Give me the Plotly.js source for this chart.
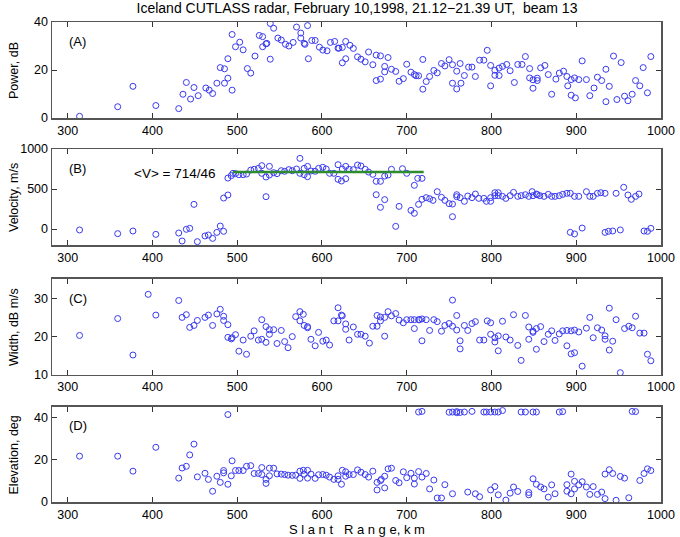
<!DOCTYPE html>
<html>
<head>
<meta charset="utf-8">
<script src="https://cdn.plot.ly/plotly-3.0.1.min.js"></script>
<style>
  html, body { margin: 0; padding: 0; background: #fff; }
  #chart { width: 680px; height: 537px; }
</style>
</head>
<body>
<div id="chart"></div>
<script>
// Beam 13 range-gate parameters, slant range in km

// (A) backscatter power
const powerRange = [314,359,377,404,431,436,440,445,449,454,463,467,471,476,480,485,485,489,489,494,494,498,503,507,512,516,521,526,530,530,534,535,539,539,543,548,552,557,561,566,570,575,575,579,580,584,583,588,592,597,601,606,610,615,619,620,624,624,628,628,633,637,642,646,651,655,660,664,664,669,669,674,674,678,682,687,691,696,700,705,709,711,714,719,719,723,727,732,736,741,745,750,754,754,759,759,763,764,768,773,777,781,786,791,795,799,799,804,804,809,809,813,818,822,827,831,836,840,845,845,849,849,854,854,858,863,867,871,876,880,885,889,890,894,894,898,899,903,907,912,916,921,925,930,935,935,939,944,948,953,957,961,966,970,975,979,984,988];
const powerDb = [0.7,4.7,13.2,5.2,3.9,9.9,14.8,7.9,12.7,9.3,12.5,11.6,10.2,14.5,21,20.5,14.5,16.6,24.7,11.6,34.8,29.7,31.6,28.4,20.6,18.7,25.8,34.4,33.9,29.7,30.9,31.1,24.5,39.4,37.4,33.3,32.5,30.7,30,31.5,37.9,35.4,33.3,31.1,30.7,24.7,38.5,32.3,32.3,29.5,28.3,28,31.5,31.9,29.1,29.1,29.4,23,31.9,24.7,30.3,29,25.5,24.5,23.4,27.5,22.2,26.2,15.6,25.9,16.2,21.5,19.2,25.2,20.3,19.4,15.3,16.4,22.4,19.1,18.1,17.6,17.6,24.4,12,15.2,17.3,19.8,18.8,22.7,21.7,24.3,22.2,14.5,19.5,12.1,22.7,14.5,17.7,21.2,21.2,17.3,24.1,24.1,28.2,21.9,13.4,19.9,17.8,20.8,17.7,21.5,22.3,19.7,14.8,22.3,22.3,25.6,20.6,16.7,15.9,12.4,16.6,15.6,20.9,21.9,18.1,9.9,16.2,18.7,19.5,17.3,13.4,16,9.5,16.7,8.4,16,23.8,16,9.3,12.5,17,15.6,20.3,6.8,13.2,25.8,7.7,23.1,9.1,7.2,9.9,15.6,13.4,21,10.5,25.6];

// (B) line-of-sight velocity
const velRange = [314,359,377,404,431,435,440,444,449,453,462,466,471,476,480,484,484,489,489,493,495,498,502,507,511,516,520,525,529,529,534,534,538,538,543,547,552,556,561,565,570,574,574,579,579,583,583,587,592,596,601,605,609,614,619,619,623,624,628,628,632,637,642,646,651,655,660,664,664,669,669,674,674,678,682,687,691,695,700,705,709,709,713,714,718,718,723,727,731,736,741,745,750,754,754,759,759,763,768,772,777,781,785,791,794,799,799,804,804,808,808,813,817,822,826,831,835,840,844,848,849,853,854,857,862,867,871,875,880,884,889,893,893,898,898,903,907,912,916,920,925,929,934,934,938,943,947,952,956,961,965,970,974,980,984,988];
const velMs = [-12,-58,-25,-67,-50,-150,-4,8,308,-158,-87,-75,-117,-42,37,-29,387,425,637,667,696,692,679,679,687,737,746,758,792,696,650,404,783,675,704,692,729,721,742,729,750,883,696,758,679,783,654,725,721,758,771,750,696,696,804,621,600,750,783,629,746,742,800,788,746,712,683,596,429,596,271,367,662,675,746,33,283,754,696,233,546,196,633,308,633,371,392,379,358,467,396,358,317,312,154,429,404,392,346,412,392,437,383,383,346,346,392,454,417,454,417,408,383,417,458,408,417,429,408,467,417,437,429,417,408,433,408,408,417,433,446,446,-42,408,-62,408,12,467,408,408,446,454,446,-42,-29,-25,446,-12,521,425,371,408,437,-25,-29,8];

// Mean velocity over the high-velocity stretch
const meanVelocity = 714;
const meanVelocitySpread = 46;
const meanRangeSpan = [495, 720];

// (C) spectral width
const widthRange = [314,359,377,395,404,431,435,440,444,449,453,462,466,471,476,480,484,484,489,489,493,494,498,502,507,511,516,520,525,529,529,534,534,538,538,543,547,552,556,560,565,569,574,574,578,579,583,583,587,592,596,601,605,609,614,619,619,623,624,628,628,632,637,642,646,651,656,660,665,665,669,669,674,674,678,682,687,691,696,700,705,709,709,714,715,718,718,723,727,732,736,741,745,750,754,754,759,759,763,763,768,772,777,781,786,791,795,799,799,804,804,808,808,813,817,822,826,831,835,840,844,844,849,849,853,853,858,862,867,871,875,880,884,889,889,894,894,898,898,903,907,912,916,920,925,930,934,934,939,939,943,947,952,957,962,966,970,975,980,984,988];
const widthDbMs = [20.3,24.7,15.2,31,25.6,29.4,25,25.7,22.4,22.9,24.2,25,25.6,22.9,25.9,27.1,25.3,24.2,23.1,19.8,19.4,19.7,20.5,16.2,19.1,15.4,20.1,21.5,19.1,24.4,19.3,22.6,18.5,21.8,20.6,21.8,18.2,21.6,18.7,17.1,20,25.2,26.5,24.1,25.8,22.9,22.6,22.3,19.3,17.6,21.1,18.8,19.1,17.8,24.1,27.5,24.1,25.6,25.4,23.3,21.9,19.1,22.5,20.6,20.6,20.1,18.3,22.7,22.7,25.5,25.1,24.1,25,20.1,26.5,25.4,26,24.3,23.6,24.4,24.4,24.4,22.1,24.4,24.4,24.6,18.9,24.4,21.6,24.4,23.9,21.4,22.9,23.4,29.5,22.7,25.5,21.7,18.9,16.8,22.9,21.6,23.4,23.9,19.1,19.1,24.1,23.6,20.6,19.7,18.6,20.2,16.3,24,19.9,19.1,25.7,17.7,13.8,25.5,22.5,19.3,21.4,21.1,16.7,22.1,22.6,18.7,20.6,21.5,19,20.7,21.5,21.6,17.6,15.5,21.5,21.7,15.8,21.2,12.3,22.2,25,19.7,22.3,21.7,20.2,19.3,27.4,16.5,18.8,24.4,10.6,22.1,22.7,22.3,25.3,20.9,20.9,15.4,13.7];

// (D) elevation angle
const elevRange = [314,359,377,404,431,435,440,444,449,453,462,466,471,476,480,484,484,489,489,493,494,498,502,507,511,516,520,525,529,529,534,534,538,538,543,547,552,556,560,565,569,574,574,578,579,583,583,587,592,596,601,605,609,614,619,619,623,624,628,628,632,637,642,646,651,655,660,665,665,669,670,674,674,678,682,687,691,696,700,705,709,709,714,714,718,718,723,727,732,736,741,745,750,754,754,759,759,763,768,772,777,781,786,791,794,799,799,804,804,808,808,813,817,822,826,831,835,840,844,844,849,849,853,853,858,862,867,871,875,880,884,889,889,894,894,898,898,903,907,912,916,920,925,930,934,934,939,943,947,952,957,962,966,970,975,980,984,988];
const elevDeg = [21.7,21.7,14.6,25.9,11.3,16.1,16.9,22.3,27.4,11.9,13.6,10.7,5.1,12.2,9.3,14.9,13.8,41.4,8.4,12.4,19.5,14.9,14.9,14.9,16.9,17.2,13.5,13.5,16.3,13,10.7,8.8,16,12.4,16,13.3,13.2,13,12.7,12.6,12.7,14.6,11.2,15,13.2,15,11.3,13.2,11.2,12.9,13,12.7,11.8,10.7,12.4,10.7,8.4,15,14.3,12.2,13,13,15.2,14.1,13,11.8,14.6,9.3,5.7,10.1,10.7,12.2,6.7,15.7,16,10.2,9.1,14.3,11.5,13.6,11.3,8.5,14.4,42.6,42.9,11.8,13.5,6.2,10.4,1.9,1.9,8.2,42.5,42.6,3.9,42.8,42.3,42.4,42.6,4.7,42.9,3.9,2.5,42.6,42.6,42.6,5.7,7.3,42.6,42.6,3.4,43.3,0.9,4.2,7.1,5,42.6,42.6,4.5,3.4,11,42.6,42.6,8.4,7.1,6.2,2.3,8.1,3.9,42.6,42.8,8.2,5.1,13.2,3.9,9.8,6.2,8.1,9.6,7.1,3.6,7.3,3.6,4.7,13.2,1.6,15.3,13.5,0.8,12.1,11.3,2,42.9,42.8,10.2,13.5,15.7,14.9];

const rangeTicks = [300, 400, 500, 600, 700, 800, 900, 1000];

const FONT = 'Liberation Sans, Arial, Helvetica, sans-serif';
const pointColor = '#3a3af0';

function circles(x, y, axisId) {
  return {
    type: 'scatter', mode: 'markers', x: x, y: y,
    xaxis: 'x' + axisId, yaxis: 'y' + axisId,
    marker: { symbol: 'circle-open', size: 6, color: pointColor, line: { width: 1, color: pointColor } },
    hoverinfo: 'x+y', showlegend: false
  };
}

const traces = [
  circles(powerRange, powerDb, ''),
  circles(velRange, velMs, '2'),
  {
    type: 'scatter', mode: 'lines',
    x: meanRangeSpan, y: [meanVelocity, meanVelocity],
    xaxis: 'x2', yaxis: 'y2',
    line: { color: '#2e8b2e', width: 2.5 },
    showlegend: false, hoverinfo: 'skip'
  },
  circles(widthRange, widthDbMs, '3'),
  circles(elevRange, elevDeg, '4')
];

function xAxis(anchor) {
  return {
    range: [281.5, 1000], tickvals: rangeTicks, ticktext: rangeTicks.map(String),
    ticks: 'inside', ticklen: 5, tickwidth: 1, tickcolor: '#333',
    showline: true, linecolor: '#555', linewidth: 1.5, mirror: 'ticks',
    showgrid: false, zeroline: false, anchor: anchor,
    tickfont: { family: FONT, size: 12.5, color: '#000' }
  };
}
function yAxis(domain, range, tickvals, anchor) {
  return {
    domain: domain, range: range, tickvals: tickvals, anchor: anchor,
    ticks: 'inside', ticklen: 5, tickwidth: 1, tickcolor: '#333',
    showline: true, linecolor: '#555', linewidth: 1.5, mirror: 'ticks',
    showgrid: false, zeroline: false,
    tickfont: { family: FONT, size: 12.5, color: '#000' }
  };
}

const domA = [0.8, 1.0];
const domB = [0.5354, 0.7354];
const domC = [0.2646, 0.4646];
const domD = [0.0, 0.198];

function panelTag(text, xr, yr) {
  return { text: text, xref: xr + ' domain', yref: yr + ' domain', x: 0.025, y: 0.8,
    xanchor: 'left', yanchor: 'middle', showarrow: false,
    font: { family: FONT, size: 13, color: '#000' } };
}
function sideTitle(text, dom) {
  return { text: text, xref: 'paper', yref: 'paper', x: -0.0624, y: (dom[0] + dom[1]) / 2,
    xanchor: 'center', yanchor: 'middle', textangle: -90, showarrow: false,
    font: { family: FONT, size: 12.5, color: '#000' } };
}

const layout = {
  width: 680, height: 537,
  margin: { l: 52, r: 19, t: 22, b: 35 },
  paper_bgcolor: '#fff', plot_bgcolor: '#fff',
  title: {
    text: 'Iceland CUTLASS radar, February 10,1998, 21.12\u221221.39 UT,&nbsp; beam 13',
    font: { family: FONT, size: 14, color: '#000' },
    x: 0.525, xanchor: 'center', y: 1 - 8 / 537, yanchor: 'middle', yref: 'container'
  },
  xaxis: xAxis('y'),
  yaxis: yAxis(domA, [0, 40], [0, 20, 40], 'x'),
  xaxis2: xAxis('y2'),
  yaxis2: yAxis(domB, [-200, 1000], [0, 500, 1000], 'x2'),
  xaxis3: xAxis('y3'),
  yaxis3: yAxis(domC, [10, 35], [10, 20, 30], 'x3'),
  xaxis4: xAxis('y4'),
  yaxis4: yAxis(domD, [0, 45], [0, 20, 40], 'x4'),
  annotations: [
    panelTag('(A)', 'x', 'y'),
    panelTag('(B)', 'x2', 'y2'),
    panelTag('(C)', 'x3', 'y3'),
    panelTag('(D)', 'x4', 'y4'),
    { text: '&lt;V&gt; = ' + meanVelocity + '/' + meanVelocitySpread,
      xref: 'x2', yref: 'y2', x: 376, y: 700, xanchor: 'left', yanchor: 'middle',
      showarrow: false, font: { family: FONT, size: 13.5, color: '#000' } },
    sideTitle('Power, dB', domA),
    sideTitle('Velocity, m/s', domB),
    sideTitle('Width, dB m/s', domC),
    sideTitle('Elevation, deg', domD),
    { text: 'S l a n t &nbsp; R a n g e, k m', xref: 'paper', yref: 'paper',
      x: 0.5, y: -27 / 480, xanchor: 'center', yanchor: 'middle', showarrow: false,
      font: { family: FONT, size: 13, color: '#000' } }
  ]
};

Plotly.newPlot('chart', traces, layout, { displayModeBar: false, staticPlot: true });
</script>
</body>
</html>
